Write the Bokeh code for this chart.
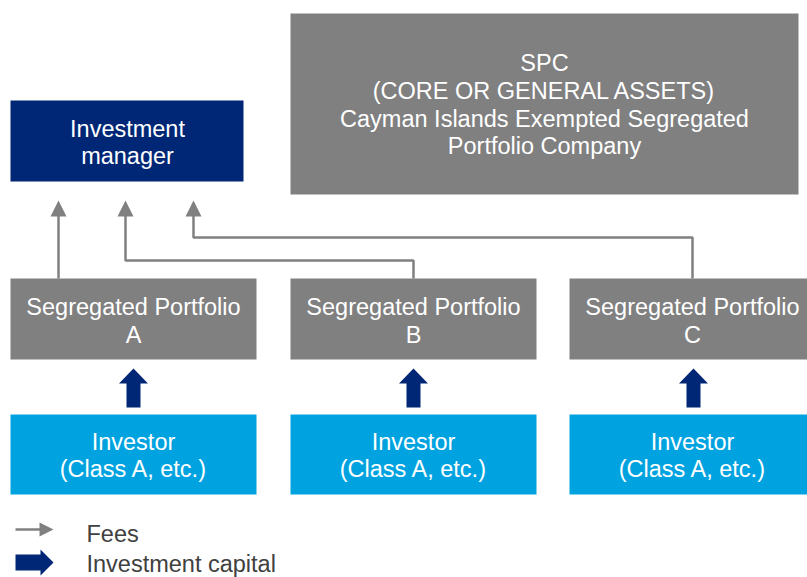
from bokeh.plotting import figure
from bokeh.models import Range1d
from bokeh.embed import file_html
from bokeh.resources import INLINE
from bokeh.core.properties import value

# --- diagram content (reference-pixel coordinates) ---
FONT = "Liberation Sans"
GREY = "#808080"
NAVY = "#002776"
CYAN = "#00A3E0"

# boxes: left, right, top, bottom, colour
box_left   = [10, 290, 10, 290, 569, 10, 290, 569]
box_right  = [243, 798, 256, 536, 815, 256, 536, 815]
box_top    = [100, 13, 278, 278, 278, 414, 414, 414]
box_bottom = [181, 194, 359, 359, 359, 494, 494, 494]
box_color  = [NAVY, GREY, GREY, GREY, GREY, CYAN, CYAN, CYAN]

# texts inside boxes
txt_x = [127, 127, 544, 544, 544, 544,
         133, 133, 413, 413, 692, 692,
         133, 133, 413, 413, 692, 692]
txt_y = [128, 155, 62, 90, 118, 145,
         306, 334, 306, 334, 306, 334,
         441, 468, 441, 468, 441, 468]
txt = ["Investment", "manager", "SPC", "(CORE OR GENERAL ASSETS)",
       "Cayman Islands Exempted Segregated", "Portfolio Company",
       "Segregated Portfolio", "A", "Segregated Portfolio", "B",
       "Segregated Portfolio", "C",
       "Investor", "(Class A, etc.)", "Investor", "(Class A, etc.)",
       "Investor", "(Class A, etc.)"]

# fee paths (grey)
fee_xs = [[58, 58], [413, 413, 125, 125], [692, 692, 193, 193]]
fee_ys = [[278, 214], [278, 260, 260, 214], [278, 237, 237, 214]]
fee_tip_x = [58, 125, 193]
fee_tip_y = 200

# investment capital arrows (navy)
cap_x = [133, 413, 693]
cap_tip, cap_neck, cap_base = 368, 383, 407
cap_head_half, cap_shaft_half = 14.5, 7

# legend
leg_x0, leg_x1 = 15, 53
leg_fee_y, leg_cap_y = 529, 562
leg_labels = ["Fees", "Investment capital"]
leg_text_x = 86
leg_text_y = [533, 563]

p = figure(width=807, height=577, output_backend="svg", toolbar_location=None,
           x_range=Range1d(0, 807), y_range=Range1d(577, 0),
           min_border=0, outline_line_color=None)
p.axis.visible = False
p.grid.visible = False
p.background_fill_color = "white"

p.quad(left=box_left, right=box_right, top=box_top, bottom=box_bottom,
       fill_color=box_color, line_color=None)

p.text(x=txt_x, y=txt_y, text=txt, text_color="white", text_align="center",
       text_baseline="middle", text_font=value(FONT), text_font_size="23.5px")

# grey fee arrows
p.multi_line(xs=fee_xs, ys=fee_ys, line_color=GREY, line_width=2.5)
hx, hy = [], []
for tx in fee_tip_x:
    hx.append([tx, tx - 8, tx + 8])
    hy.append([fee_tip_y, fee_tip_y + 16, fee_tip_y + 16])
p.patches(xs=hx, ys=hy, fill_color=GREY, line_color=None)

# navy capital arrows
ax, ay = [], []
for cx in cap_x:
    ax.append([cx, cx + cap_head_half, cx + cap_shaft_half, cx + cap_shaft_half,
               cx - cap_shaft_half, cx - cap_shaft_half, cx - cap_head_half])
    ay.append([cap_tip, cap_neck, cap_neck, cap_base, cap_base, cap_neck, cap_neck])
p.patches(xs=ax, ys=ay, fill_color=NAVY, line_color=None)

# legend fee arrow
p.line(x=[leg_x0, leg_x1 - 12], y=[leg_fee_y, leg_fee_y], line_color=GREY, line_width=2.5)
p.patch(x=[leg_x1, leg_x1 - 14, leg_x1 - 14], y=[leg_fee_y, leg_fee_y - 7, leg_fee_y + 7],
        fill_color=GREY, line_color=None)
# legend capital arrow
p.patch(x=[leg_x0, leg_x1 - 13, leg_x1 - 13, leg_x1, leg_x1 - 13, leg_x1 - 13, leg_x0],
        y=[leg_cap_y - 8, leg_cap_y - 8, leg_cap_y - 13, leg_cap_y, leg_cap_y + 13,
           leg_cap_y + 8, leg_cap_y + 8],
        fill_color=NAVY, line_color=None)
p.text(x=[leg_text_x] * 2, y=leg_text_y, text=leg_labels, text_color="#404040",
       text_align="left", text_baseline="middle", text_font=value(FONT),
       text_font_size="23.5px")

open("out.html", "w").write(file_html(p, INLINE))
